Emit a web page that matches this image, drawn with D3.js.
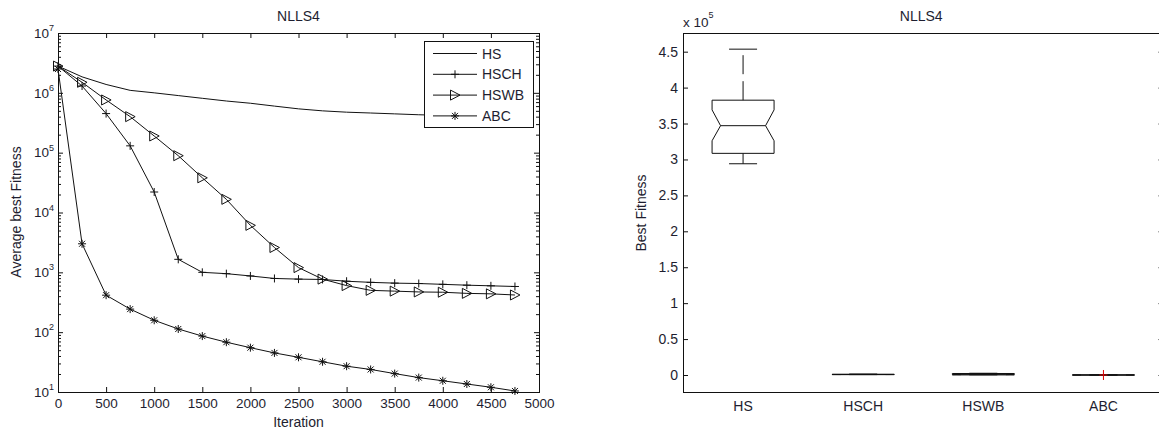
<!DOCTYPE html>
<html><head><meta charset="utf-8">
<script src="https://cdn.jsdelivr.net/npm/d3@7"></script>
<style>
body{margin:0;background:#fff;}
svg{display:block;background:#fff;}
text{font-family:"Liberation Sans",Arial,Helvetica,sans-serif;fill:#1e1e30;}
</style></head><body>
<svg id="c" width="1159" height="432"></svg>
<script>
// ---------- Data: convergence (left) ----------
const chartTitle = "NLLS4";
const iterations = [0,250,500,750,1000,1250,1500,1750,2000,2250,2500,2750,3000,3250,3500,3750,4000,4250,4500,4750];
const seriesNames = ["HS","HSCH","HSWB","ABC"];
const hsValues   = [2.8e6,1.85e6,1.38e6,1.1e6,1.0e6,9.0e5,8.1e5,7.3e5,6.7e5,6.0e5,5.4e5,5.0e5,4.75e5,4.6e5,4.45e5,4.3e5,4.2e5,4.1e5,4.05e5,4.0e5];
const hschValues = [2.8e6,1.3e6,4.5e5,1.3e5,2.2e4,1.65e3,1.0e3,9.5e2,8.7e2,7.9e2,7.7e2,7.6e2,7.1e2,6.8e2,6.6e2,6.5e2,6.3e2,6.1e2,5.95e2,5.8e2];
const hswbValues = [2.8e6,1.5e6,7.6e5,4.0e5,1.9e5,8.9e4,3.8e4,1.66e4,6.1e3,2.6e3,1.2e3,7.7e2,6.0e2,5.0e2,4.85e2,4.7e2,4.65e2,4.45e2,4.37e2,4.18e2];
const abcValues  = [2.5e6,3.0e3,4.15e2,2.43e2,1.58e2,1.13e2,86,68,55,45,38,32,27,23.8,20.3,17.4,15.4,13.6,12,10.4];
const xTickValues = [0,500,1000,1500,2000,2500,3000,3500,4000,4500,5000];
const yExponents = [1,2,3,4,5,6,7];
const xLabelLeft = "Iteration";
const yLabelLeft = "Average best Fitness";

// ---------- Data: box plot (right) ----------
const boxCategories  = ["HS","HSCH","HSWB","ABC"];
const boxWhiskerLow  = [2.94e5, 560, 250, 9.0];
const boxQ1          = [3.085e5, 580, 300, 9.8];
const boxMedian      = [3.47e5, 600, 420, 10.4];
const boxQ3          = [3.825e5, 1100, 2100, 11.2];
const boxWhiskerHigh = [4.535e5, 1300, 2400, 12.0];
const boxNotchLow    = [3.26e5, 560, 250, 9.9];
const boxNotchHigh   = [3.69e5, 700, 900, 10.9];
const boxOutliers    = [[], [], [], [14.5]];
const boxYTicks = [0,0.5,1,1.5,2,2.5,3,3.5,4,4.5];
const boxYScaleExp = 5;
const yLabelRight = "Best Fitness";

// ---------- Drawing ----------
const svg = d3.select("#c");
const ink = "#111";
const tickFont = 13.5;

// ===== Left chart =====
const L = {left:58, right:539, top:33, bottom:392};
const x = d3.scaleLinear().domain([0,5000]).range([L.left, L.right]);
const y = d3.scaleLog().domain([10,1e7]).range([L.bottom, L.top]);
const gL = svg.append("g");

function styleAxis(s){
  s.select(".domain").remove();
  s.selectAll(".tick line").attr("stroke", ink);
  s.selectAll("text").attr("font-size", tickFont).attr("font-family","'Liberation Sans',Arial,sans-serif").attr("fill","#1e1e30");
}
gL.append("g").attr("transform",`translate(0,${L.bottom})`)
  .call(d3.axisBottom(x).tickValues(xTickValues).tickSize(-5).tickSizeOuter(0).tickPadding(6).tickFormat(d3.format("d")))
  .call(styleAxis);
gL.append("g").attr("transform",`translate(0,${L.top})`)
  .call(d3.axisTop(x).tickValues(xTickValues).tickSize(-5).tickSizeOuter(0).tickFormat(""))
  .call(styleAxis);

const majors = yExponents.map(e => Math.pow(10,e));
const minors = [];
yExponents.slice(0,-1).forEach(e => { for(let k=2;k<=9;k++) minors.push(k*Math.pow(10,e)); });

const yAxL = gL.append("g").attr("transform",`translate(${L.left},0)`)
  .call(d3.axisLeft(y).tickValues(majors).tickSize(-5).tickSizeOuter(0).tickPadding(5).tickFormat(""))
  .call(styleAxis);
yAxL.selectAll(".tick text").each(function(d){
  const t = d3.select(this);
  t.text(null).attr("dy","0.32em");
  t.append("tspan").text("10");
  t.append("tspan").attr("font-size",9).attr("dy","-0.75em").text(String(Math.round(Math.log10(d))));
});
yAxL.selectAll(".tick text").attr("x",-4);
gL.append("g").attr("transform",`translate(${L.left},0)`)
  .call(d3.axisLeft(y).tickValues(minors).tickSize(-3).tickSizeOuter(0).tickFormat(""))
  .call(styleAxis);
gL.append("g").attr("transform",`translate(${L.right},0)`)
  .call(d3.axisRight(y).tickValues(majors).tickSize(-5).tickSizeOuter(0).tickFormat(""))
  .call(styleAxis);
gL.append("g").attr("transform",`translate(${L.right},0)`)
  .call(d3.axisRight(y).tickValues(minors).tickSize(-3).tickSizeOuter(0).tickFormat(""))
  .call(styleAxis);

gL.append("rect").attr("x",L.left+0.5).attr("y",L.top+0.5)
  .attr("width",L.right-L.left).attr("height",L.bottom-L.top)
  .attr("fill","none").attr("stroke",ink).attr("stroke-width",1);

const seriesData = [hsValues, hschValues, hswbValues, abcValues];
const markerPaths = [
  null,
  "M-4,0H4M0,-4V4",
  "M-4.5,-5L-4.5,5L5,0Z",
  "M-4,0H4M0,-4V4M-3,-3L3,3M-3,3L3,-3"
];
const line = d3.line().x((d,i)=>x(iterations[i])).y(d=>y(d));
seriesData.forEach((vals,si)=>{
  gL.append("path").datum(vals).attr("d",line)
    .attr("fill","none").attr("stroke",ink).attr("stroke-width",1);
  if(markerPaths[si]){
    gL.append("g").selectAll("path").data(vals).join("path")
      .attr("transform",(d,i)=>`translate(${x(iterations[i])},${y(d)})`)
      .attr("d",markerPaths[si]).attr("fill","none").attr("stroke",ink).attr("stroke-width",1);
  }
});

// legend
const lg = gL.append("g");
lg.append("rect").attr("x",424.5).attr("y",41.5).attr("width",109).attr("height",86)
  .attr("fill","#fff").attr("stroke",ink);
seriesNames.forEach((n,i)=>{
  const yy = 53.5 + i*20.8;
  lg.append("line").attr("x1",433).attr("x2",477).attr("y1",yy).attr("y2",yy).attr("stroke",ink);
  if(markerPaths[i]) lg.append("path").attr("d",markerPaths[i]).attr("transform",`translate(455,${yy})`)
    .attr("fill","none").attr("stroke",ink);
  lg.append("text").attr("x",482).attr("y",yy+5).attr("font-size",14).text(n);
});

gL.append("text").attr("x",(L.left+L.right)/2).attr("y",21).attr("text-anchor","middle").attr("font-size",14).text(chartTitle);
gL.append("text").attr("x",(L.left+L.right)/2).attr("y",427).attr("text-anchor","middle").attr("font-size",14).text(xLabelLeft);
gL.append("text").attr("transform",`translate(21,212) rotate(-90)`).attr("text-anchor","middle").attr("font-size",14).text(yLabelLeft);

// ===== Right chart =====
const R = {left:683, right:1163.5, top:33, bottom:392};
const scaleF = Math.pow(10, boxYScaleExp);
const xb = d3.scaleBand().domain(boxCategories).range([R.left, R.right]);
const yb = d3.scaleLinear().domain([-0.2366*scaleF, 4.760*scaleF]).range([R.bottom, R.top]);
const gR = svg.append("g");

gR.append("g").attr("transform",`translate(${R.left},0)`)
  .call(d3.axisLeft(yb).tickValues(boxYTicks.map(v=>v*scaleF)).tickSize(-5).tickSizeOuter(0).tickPadding(5).tickFormat(d=>String(+(d/scaleF).toFixed(1))))
  .call(styleAxis).selectAll("text").attr("font-size",14);
gR.append("g").attr("transform",`translate(${R.right},0)`)
  .call(d3.axisRight(yb).tickValues(boxYTicks.map(v=>v*scaleF)).tickSize(-5).tickSizeOuter(0).tickFormat(""))
  .call(styleAxis);
gR.append("rect").attr("x",R.left+0.5).attr("y",R.top+0.5)
  .attr("width",R.right-R.left).attr("height",R.bottom-R.top)
  .attr("fill","none").attr("stroke",ink);

// category labels
gR.append("g").attr("transform",`translate(0,${R.bottom})`)
  .call(d3.axisBottom(xb).tickSize(0).tickPadding(9))
  .call(styleAxis).selectAll("text").attr("font-size",14);

const boxHalf = 31, notchHalf = 22.5, capHalf = 14;
boxCategories.forEach((c,i)=>{
  const cx = xb(c) + xb.bandwidth()/2;
  const q1=yb(boxQ1[i]), q3=yb(boxQ3[i]), md=yb(boxMedian[i]);
  const nl=yb(boxNotchLow[i]), nh=yb(boxNotchHigh[i]);
  const wl=yb(boxWhiskerLow[i]), wh=yb(boxWhiskerHigh[i]);
  const g = gR.append("g").attr("fill","none").attr("stroke",ink).attr("stroke-width",1);
  g.append("line").attr("x1",cx).attr("x2",cx).attr("y1",q3).attr("y2",wh).attr("stroke-dasharray","19,7");
  g.append("line").attr("x1",cx).attr("x2",cx).attr("y1",q1).attr("y2",wl).attr("stroke-dasharray","19,7");
  g.append("line").attr("x1",cx-capHalf).attr("x2",cx+capHalf).attr("y1",wh).attr("y2",wh);
  g.append("line").attr("x1",cx-capHalf).attr("x2",cx+capHalf).attr("y1",wl).attr("y2",wl);
  const l=cx-boxHalf, r=cx+boxHalf, nI=boxHalf-notchHalf;
  g.append("path").attr("d",
    `M${l},${q3}L${l},${nh}L${l+nI},${md}L${l},${nl}L${l},${q1}L${r},${q1}L${r},${nl}L${r-nI},${md}L${r},${nh}L${r},${q3}Z`);
  g.append("line").attr("x1",l+nI).attr("x2",r-nI).attr("y1",md).attr("y2",md);
  boxOutliers[i].forEach(v=>{
    gR.append("path").attr("d","M-4,0H4M0,-5V5").attr("transform",`translate(${cx},${yb(v)})`)
      .attr("stroke","#e00000").attr("fill","none");
  });
});

gR.append("text").attr("x",(R.left+R.right)/2-2).attr("y",21).attr("text-anchor","middle").attr("font-size",14).text(chartTitle);
const sx = gR.append("text").attr("x",R.left).attr("y",26.5).attr("font-size",13.5);
sx.append("tspan").text("x 10");
sx.append("tspan").attr("font-size",9).attr("dy","-0.9em").text(String(boxYScaleExp));
gR.append("text").attr("transform",`translate(646,213) rotate(-90)`).attr("text-anchor","middle").attr("font-size",14).text(yLabelRight);
</script>
</body></html>
